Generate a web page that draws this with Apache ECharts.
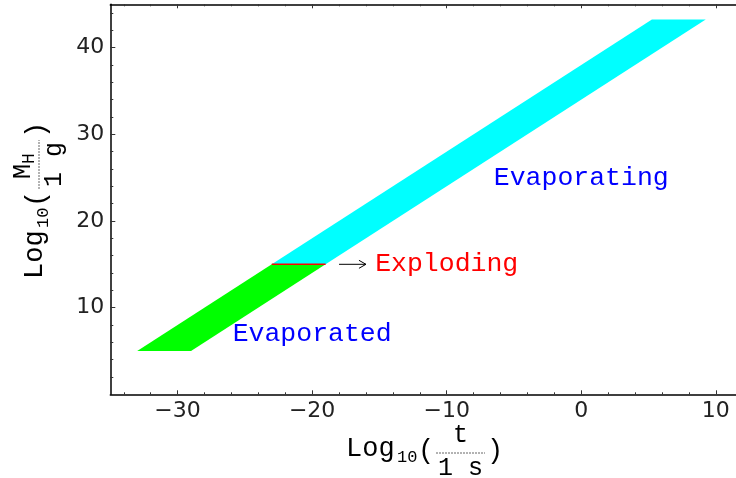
<!DOCTYPE html>
<html>
<head>
<meta charset="utf-8">
<script src="https://cdn.jsdelivr.net/npm/echarts@6/dist/echarts.min.js"></script>
<style>
  html, body { margin: 0; padding: 0; background: #fff; }
  #chart { width: 736px; height: 478px; }
</style>
</head>
<body>
<div id="chart"></div>
<script>
// Black-hole mass vs. lifetime bands (log10 units)
const evaporatedBand  = [[-33, 5], [-29, 5], [-19, 15], [-23, 15]];
const evaporatingBand = [[-23, 15], [-19, 15], [9.25, 43.25], [5.25, 43.25]];
const explodingLine   = [[-23, 15], [-19, 15]];
const arrowPath       = [[-18, 15], [-16, 15]];

const labelNames = ['Evaporating', 'Evaporated', 'Exploding'];
const labelX     = [0, -20, -10];
const labelY     = [25, 7, 15];
const labelColors = ['#0000ff', '#0000ff', '#ff0000'];

const xMajorTicks = [-30, -20, -10, 0, 10];
const xMinorTicks = [-34, -32, -28, -26, -24, -22, -18, -16, -14, -12, -8, -6, -4, -2, 2, 4, 6, 8];
const yMajorTicks = [10, 20, 30, 40];
const yMinorTicks = [2, 4, 6, 8, 12, 14, 16, 18, 22, 24, 26, 28, 32, 34, 36, 38, 42, 44];

const X_MIN = -35, X_MAX = 11.5, Y_MIN = 0, Y_MAX = 45;

const chart = echarts.init(document.getElementById('chart'), null, { renderer: 'canvas' });

const MONO = '"Liberation Mono", "DejaVu Sans Mono", monospace';
const SANS = '"DejaVu Sans", sans-serif';

function fmtTick(v) {
  return v < 0 ? '\u2212' + Math.abs(v) : String(v);
}

function xAxisDef(position, ticks, tickLen, withLine, withLabels) {
  return {
    type: 'value', position, min: X_MIN, max: X_MAX,
    axisLine: { show: withLine, onZero: false, lineStyle: { color: '#000', width: 1.5 } },
    axisTick: { show: true, inside: true, length: tickLen, customValues: ticks,
                lineStyle: { color: '#333', width: 1 } },
    axisLabel: { show: withLabels, customValues: ticks, formatter: fmtTick,
                 fontFamily: SANS, fontSize: 22, color: '#222', margin: 6 },
    splitLine: { show: false }
  };
}

function yAxisDef(ticks, tickLen, withLine, withLabels) {
  return {
    type: 'value', position: 'left', min: Y_MIN, max: Y_MAX,
    axisLine: { show: withLine, onZero: false, lineStyle: { color: '#000', width: 1.5 } },
    axisTick: { show: true, inside: true, length: tickLen, customValues: ticks,
                lineStyle: { color: '#333', width: 1 } },
    axisLabel: { show: withLabels, customValues: ticks, formatter: fmtTick,
                 fontFamily: SANS, fontSize: 22, color: '#222', margin: 6 },
    splitLine: { show: false }
  };
}

function bandSeries(name, pts, color) {
  return {
    type: 'custom', name, data: pts, silent: true, z: 2,
    encode: { x: 0, y: 1 },
    renderItem: function (params, api) {
      if (params.dataIndex !== 0) return null;
      return {
        type: 'polygon',
        shape: { points: pts.map(p => api.coord(p)) },
        style: { fill: color, stroke: null }
      };
    }
  };
}

// Axis title: "Log10( num / den )" laid out along a baseline
function axisTitle(x, y, rotation, numMain, numSub, den) {
  const B = 0.32; // canvas 'middle' sits about this many ems above the baseline
  const txt = (text, u, v, size, align) => ({
    type: 'text', x: u, y: v - B * size,
    style: { text, font: size + 'px ' + MONO, fill: '#000',
             align: align || 'left', verticalAlign: 'middle',
             textAlign: align || 'left', textVerticalAlign: 'middle' }
  });
  const kids = [
    txt('Log', -1, 0, 27),
    txt('10', 50, 6, 17),
    txt('(', 71, 2, 27),
    txt(')', 140, 2, 27),
    { type: 'line', shape: { x1: 89, y1: -4, x2: 138, y2: -4 },
      style: { stroke: '#666', lineWidth: 1, lineDash: [2, 1] } },
    txt(den, 113.5, 19, 25, 'center')
  ];
  if (numSub) {
    kids.push(txt(numMain, 99, -12, 25, 'left'));
    kids.push(txt(numSub, 114, -8, 18, 'left'));
  } else {
    kids.push(txt(numMain, 113.5, -14, 25, 'center'));
  }
  return { type: 'group', x, y, rotation, children: kids, silent: true };
}

const option = {
  animation: false,
  backgroundColor: '#fff',
  grid: { left: 110.3, top: 4.3, right: 0, height: 390, containLabel: false },
  xAxis: [
    xAxisDef('bottom', xMajorTicks, 4, true, true),
    xAxisDef('bottom', xMinorTicks, 2, false, false),
    xAxisDef('top', xMajorTicks, 4, true, false),
    xAxisDef('top', xMinorTicks, 2, false, false)
  ],
  yAxis: [
    yAxisDef(yMajorTicks, 5, true, true),
    yAxisDef(yMinorTicks, 3, false, false)
  ],
  series: [
    bandSeries('Evaporated', evaporatedBand, '#00ff00'),
    bandSeries('Evaporating', evaporatingBand, '#00ffff'),
    {
      type: 'line', name: 'Exploding', data: explodingLine, z: 3,
      symbol: 'none', silent: true,
      lineStyle: { color: '#ff0000', width: 1.6 }
    },
    {
      type: 'custom', name: 'arrow', data: arrowPath, silent: true, z: 3,
      encode: { x: 0, y: 1 },
      renderItem: function (params, api) {
        if (params.dataIndex !== 0) return null;
        const a = api.coord(arrowPath[0]);
        const b = api.coord(arrowPath[1]);
        return {
          type: 'group',
          children: [
            { type: 'line', shape: { x1: a[0], y1: a[1], x2: b[0], y2: b[1] },
              style: { stroke: '#000', lineWidth: 1 } },
            { type: 'polyline', shape: { points: [[b[0] - 7, b[1] - 4], b, [b[0] - 7, b[1] + 4]] },
              style: { stroke: '#000', lineWidth: 1, fill: null } }
          ]
        };
      }
    },
    {
      // region names, centred on their data positions
      type: 'custom', name: 'labels', silent: true, z: 4,
      data: labelNames.map((n, i) => [labelX[i], labelY[i], i]),
      encode: { x: 0, y: 1 },
      renderItem: function (params, api) {
        const i = params.dataIndex;
        const p = api.coord([api.value(0), api.value(1)]);
        return {
          type: 'text', x: p[0], y: p[1],
          style: { text: labelNames[i], font: '26.5px ' + MONO, fill: labelColors[i],
                   align: 'center', verticalAlign: 'middle',
                   textAlign: 'center', textVerticalAlign: 'middle' }
        };
      }
    }
  ],
  graphic: [
    axisTitle(347, 457, 0, 't', null, '1 s'),
    axisTitle(43, 278, Math.PI / 2, 'M', 'H', '1 g')
  ]
};

chart.setOption(option);
</script>
</body>
</html>
